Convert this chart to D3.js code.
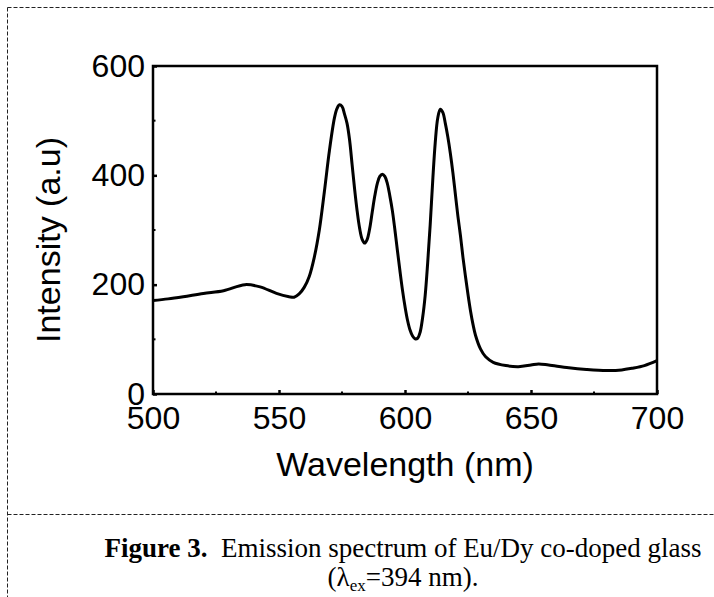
<!DOCTYPE html>
<html>
<head>
<meta charset="utf-8">
<script src="https://cdn.jsdelivr.net/npm/d3@7"></script>
<style>
  html, body { margin: 0; padding: 0; background: #fff; }
  svg { display: block; }
</style>
</head>
<body>
<svg id="chart" width="714" height="597"></svg>
<script>
// ---- data ----
const wavelength = [500, 506, 512, 520, 528, 536.5, 542.5, 549, 554, 556, 558, 560, 562, 564, 566, 568, 570, 572, 573, 574, 575, 576, 577, 578, 579, 580, 581, 582, 583, 584, 585, 586, 587, 588, 589, 590, 591, 592, 593, 594, 595, 596, 597, 598, 599, 600, 601, 602, 603, 604, 605, 606, 607, 608, 609, 610, 611, 612, 613, 614, 615, 616, 617, 618, 619, 620, 621, 622, 623, 624, 625, 626, 627, 628, 630, 632, 635, 640, 645, 650, 653, 657, 665, 672, 680, 686, 690, 695, 700];
const intensity  = [171, 174, 178, 184, 189, 200, 196, 184, 178, 177, 183, 195, 215, 250, 300, 370, 445, 505, 522, 529, 526, 512, 495, 465, 420, 375, 335, 303, 283, 276, 283, 303, 333, 362, 385, 398, 402, 398, 385, 362, 335, 300, 262, 225, 190, 160, 135, 117, 106, 101, 102, 113, 140, 180, 240, 310, 390, 460, 505, 521, 515, 495, 470, 440, 405, 365, 325, 290, 250, 215, 182, 152, 127, 107, 82, 68, 58, 52, 50, 53, 55, 53, 48, 45, 43, 44, 47, 52, 61];
const xTicks = [500, 550, 600, 650, 700];
const xMinorTicks = [525, 575, 625, 675];
const yTicks = [0, 200, 400, 600];
const yMinorTicks = [100, 300, 500];
const xTitle = "Wavelength (nm)";
const yTitle = "Intensity (a.u)";

const svg = d3.select("#chart");

// dashed figure frame
const frame = svg.append("g").attr("stroke", "#222").attr("stroke-width", 1).attr("stroke-dasharray", "4,2").attr("fill", "none");
frame.append("line").attr("x1", 7.5).attr("y1", 7.5).attr("x2", 714).attr("y2", 7.5);
frame.append("line").attr("x1", 7.5).attr("y1", 7.5).attr("x2", 7.5).attr("y2", 597);
frame.append("line").attr("x1", 7.5).attr("y1", 514.5).attr("x2", 714).attr("y2", 514.5);

const L = 153, R = 657, T = 66, B = 394;
const x = d3.scaleLinear().domain([500, 700]).range([L, R]);
const y = d3.scaleLinear().domain([0, 600]).range([B, T]);

const font = "'Liberation Sans', Arial, sans-serif";

// curve
const line = d3.line().x((d, i) => x(wavelength[i])).y((d, i) => y(intensity[i])).curve(d3.curveCatmullRom.alpha(0.5));
svg.append("path").datum(intensity).attr("d", line)
  .attr("fill", "none").attr("stroke", "#000").attr("stroke-width", 3).attr("stroke-linejoin", "round");

// axes (ticks inside)
const xAxis = d3.axisBottom(x).tickValues(xTicks).tickSize(-4).tickPadding(12).tickFormat(d3.format("d"));
const gx = svg.append("g").attr("transform", `translate(0,${B})`).call(xAxis);
gx.selectAll(".tick text").attr("font-family", font).attr("font-size", 32).attr("fill", "#000").attr("dy", "0.71em");
gx.selectAll(".tick line").attr("stroke-width", 2.5);
gx.select(".domain").remove();
svg.append("g").attr("transform", `translate(0,${B})`).selectAll("line").data(xMinorTicks).join("line")
  .attr("x1", d => x(d)).attr("x2", d => x(d)).attr("y1", 0).attr("y2", -2.5).attr("stroke", "#000").attr("stroke-width", 2);

const yAxis = d3.axisLeft(y).tickValues(yTicks).tickSize(-4).tickPadding(8).tickFormat(d3.format("d"));
const gy = svg.append("g").attr("transform", `translate(${L},0)`).call(yAxis);
gy.selectAll(".tick text").attr("font-family", font).attr("font-size", 32).attr("fill", "#000");
gy.selectAll(".tick line").attr("stroke-width", 2.5);
gy.select(".domain").remove();
svg.append("g").attr("transform", `translate(${L},0)`).selectAll("line").data(yMinorTicks).join("line")
  .attr("y1", d => y(d)).attr("y2", d => y(d)).attr("x1", 0).attr("x2", 2.5).attr("stroke", "#000").attr("stroke-width", 2);

// frame box
svg.append("rect").attr("x", L).attr("y", T).attr("width", R - L).attr("height", B - T)
  .attr("fill", "none").attr("stroke", "#000").attr("stroke-width", 2.5);

// axis titles
svg.append("text").attr("x", (L + R) / 2).attr("y", 476).attr("text-anchor", "middle")
  .attr("font-family", font).attr("font-size", 34).attr("fill", "#000").text(xTitle);
svg.append("text").attr("transform", `translate(60,${(T + B) / 2 + 10}) rotate(-90)`).attr("text-anchor", "middle")
  .attr("font-family", font).attr("font-size", 34).attr("fill", "#000").text(yTitle);

// caption
const serif = "'Liberation Serif', 'Times New Roman', serif";
const cap1 = svg.append("text").attr("x", 403).attr("y", 557).attr("text-anchor", "middle")
  .attr("font-family", serif).attr("font-size", 27).attr("fill", "#000");
cap1.append("tspan").attr("font-weight", "bold").text("Figure 3.");
cap1.append("tspan").text("\u00a0 Emission spectrum of Eu/Dy co-doped glass");
const cap2 = svg.append("text").attr("x", 403).attr("y", 586).attr("text-anchor", "middle")
  .attr("font-family", serif).attr("font-size", 27).attr("fill", "#000");
cap2.append("tspan").text("(\u03bb");
cap2.append("tspan").attr("font-size", 17).attr("dy", 5).text("ex");
cap2.append("tspan").attr("dy", -5).text("=394 nm).");
</script>
</body>
</html>
